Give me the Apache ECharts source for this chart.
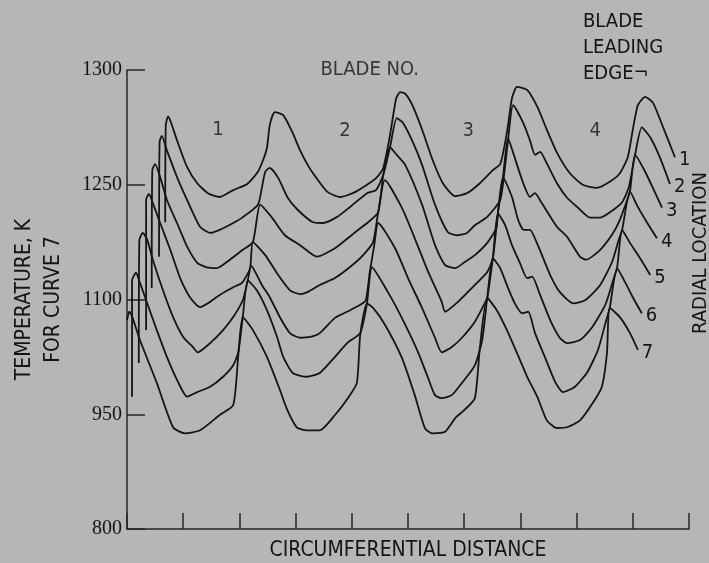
<!DOCTYPE html>
<html>
<head>
<meta charset="utf-8">
<script src="https://cdn.jsdelivr.net/npm/echarts@6/dist/echarts.min.js"></script>
<style>
  html, body { margin: 0; padding: 0; background: #b6b6b4; }
  #chart { width: 709px; height: 563px; }
</style>
</head>
<body>
<div id="chart"></div>
<script>
// temperature traces, one per radial location; x = circumferential distance in tick units,
// y = temperature (only curve 7 is on the true scale, the others are stacked above it)
var curveNames = ['1', '2', '3', '4', '5', '6', '7'];

var curve1 = [[0.68,1201],[0.69,1328],[0.73,1339],[0.78,1332],[0.89,1308],[1.07,1273],[1.25,1252],[1.44,1239],[1.65,1234],[1.89,1243],[2.14,1251],[2.33,1267],[2.42,1282],[2.49,1298],[2.54,1328],[2.63,1345],[2.78,1341],[2.94,1319],[3.08,1295],[3.20,1278],[3.31,1265],[3.56,1241],[3.79,1234],[4.02,1239],[4.27,1250],[4.45,1260],[4.56,1272],[4.68,1315],[4.79,1363],[4.86,1371],[4.95,1369],[5.09,1352],[5.27,1318],[5.44,1282],[5.62,1252],[5.84,1235],[6.05,1239],[6.28,1252],[6.51,1269],[6.64,1277],[6.71,1298],[6.78,1328],[6.85,1363],[6.94,1378],[7.12,1374],[7.30,1352],[7.47,1322],[7.65,1292],[7.88,1265],[8.11,1250],[8.36,1246],[8.59,1254],[8.77,1265],[8.91,1286],[9.00,1322],[9.09,1354],[9.22,1365],[9.36,1357],[9.54,1325],[9.75,1286]];

var curve2 = [[0.57,1156],[0.58,1306],[0.62,1314],[0.71,1295],[0.89,1260],[1.07,1230],[1.30,1195],[1.48,1187],[1.65,1191],[1.89,1200],[2.05,1207],[2.33,1224],[2.40,1246],[2.46,1267],[2.54,1272],[2.69,1259],[2.86,1233],[3.04,1217],[3.31,1201],[3.49,1200],[3.74,1208],[3.97,1221],[4.27,1239],[4.43,1243],[4.56,1263],[4.68,1299],[4.80,1337],[4.91,1331],[5.09,1305],[5.25,1276],[5.48,1224],[5.71,1188],[5.89,1184],[6.05,1187],[6.19,1197],[6.41,1208],[6.64,1230],[6.71,1263],[6.78,1308],[6.87,1354],[7.05,1331],[7.17,1308],[7.26,1289],[7.35,1293],[7.47,1278],[7.65,1252],[7.83,1233],[8.01,1221],[8.24,1207],[8.42,1207],[8.65,1217],[8.81,1227],[8.93,1247],[9.04,1289],[9.16,1325],[9.31,1312],[9.48,1286],[9.66,1251]];

var curve3 = [[0.44,1115],[0.45,1269],[0.50,1277],[0.59,1260],[0.71,1230],[0.89,1200],[1.07,1169],[1.25,1148],[1.42,1142],[1.60,1141],[1.83,1152],[2.06,1165],[2.24,1175],[2.37,1224],[2.58,1207],[2.81,1184],[3.08,1171],[3.38,1156],[3.70,1167],[4.06,1188],[4.29,1201],[4.47,1214],[4.56,1263],[4.68,1299],[4.80,1289],[4.95,1276],[5.25,1224],[5.48,1171],[5.66,1145],[5.84,1141],[6.01,1149],[6.19,1158],[6.41,1174],[6.57,1193],[6.60,1213],[6.69,1260],[6.78,1311],[6.87,1292],[7.05,1252],[7.17,1234],[7.26,1239],[7.38,1226],[7.65,1195],[7.83,1182],[8.06,1156],[8.17,1152],[8.42,1165],[8.65,1187],[8.77,1204],[8.90,1230],[8.95,1241],[9.04,1289],[9.22,1267],[9.40,1239],[9.52,1220]];

var curve4 = [[0.34,1060],[0.34,1230],[0.39,1238],[0.46,1226],[0.59,1200],[0.77,1165],[0.94,1129],[1.12,1103],[1.30,1090],[1.44,1095],[1.65,1106],[1.89,1116],[2.05,1122],[2.19,1141],[2.24,1175],[2.46,1158],[2.69,1132],[2.90,1112],[3.08,1107],[3.22,1110],[3.43,1119],[3.70,1128],[4.06,1148],[4.25,1162],[4.38,1175],[4.47,1214],[4.59,1256],[4.89,1220],[5.12,1180],[5.36,1136],[5.60,1097],[5.66,1084],[5.89,1097],[6.19,1119],[6.41,1136],[6.51,1154],[6.60,1213],[6.69,1260],[6.85,1234],[6.96,1204],[7.06,1191],[7.17,1191],[7.31,1171],[7.53,1132],[7.70,1110],[7.94,1095],[8.15,1099],[8.42,1119],[8.63,1149],[8.75,1178],[8.81,1191],[8.95,1241],[9.09,1221],[9.25,1201],[9.43,1180]];

var curve5 = [[0.21,1017],[0.22,1178],[0.28,1187],[0.36,1178],[0.46,1152],[0.64,1112],[0.82,1077],[1.00,1051],[1.17,1038],[1.26,1031],[1.48,1043],[1.71,1060],[1.89,1077],[2.06,1099],[2.15,1125],[2.21,1144],[2.40,1119],[2.54,1103],[2.72,1077],[2.90,1056],[3.08,1050],[3.26,1051],[3.43,1056],[3.70,1076],[3.97,1086],[4.15,1093],[4.25,1099],[4.32,1136],[4.40,1171],[4.47,1200],[4.77,1167],[5.00,1128],[5.25,1089],[5.48,1050],[5.60,1031],[5.78,1038],[5.96,1050],[6.19,1071],[6.35,1093],[6.41,1102],[6.51,1154],[6.60,1213],[6.73,1197],[6.85,1171],[6.99,1148],[7.12,1128],[7.21,1130],[7.35,1106],[7.53,1073],[7.70,1050],[7.83,1043],[8.06,1047],[8.27,1063],[8.51,1093],[8.65,1125],[8.72,1141],[8.81,1191],[8.95,1174],[9.13,1154],[9.31,1132]];

var curve6 = [[0.09,973],[0.09,1125],[0.16,1135],[0.23,1122],[0.36,1095],[0.53,1060],[0.71,1025],[0.89,995],[1.07,973],[1.25,979],[1.48,986],[1.71,999],[1.89,1014],[1.98,1031],[2.06,1077],[2.15,1125],[2.31,1112],[2.49,1086],[2.67,1051],[2.78,1025],[2.95,1004],[3.20,999],[3.43,1004],[3.70,1025],[3.93,1044],[4.15,1056],[4.27,1095],[4.36,1142],[4.64,1110],[4.89,1076],[5.18,1031],[5.36,997],[5.48,975],[5.60,971],[5.78,975],[5.96,991],[6.19,1014],[6.32,1047],[6.41,1102],[6.51,1154],[6.64,1141],[6.78,1115],[6.90,1095],[7.03,1082],[7.14,1084],[7.26,1056],[7.44,1024],[7.62,992],[7.76,979],[7.97,986],[8.19,1005],[8.38,1034],[8.52,1071],[8.59,1089],[8.72,1141],[8.86,1123],[9.00,1103],[9.16,1082]];

var curve7 = [[0.00,1073],[0.04,1084],[0.09,1078],[0.23,1047],[0.53,991],[0.82,933],[1.03,925],[1.30,929],[1.65,949],[1.89,962],[1.98,1027],[2.06,1077],[2.24,1060],[2.49,1025],[2.72,982],[2.85,956],[3.02,933],[3.20,929],[3.43,929],[3.70,949],[3.93,971],[4.09,991],[4.15,1054],[4.27,1095],[4.38,1089],[4.59,1067],[4.89,1024],[5.12,975],[5.30,932],[5.43,925],[5.66,927],[5.84,945],[6.01,956],[6.19,971],[6.28,1038],[6.41,1102],[6.58,1086],[6.76,1060],[6.94,1030],[7.12,999],[7.30,973],[7.47,942],[7.65,932],[7.83,933],[8.06,942],[8.29,965],[8.45,986],[8.54,1030],[8.59,1089],[8.77,1077],[8.95,1056],[9.09,1034]];

var yTickLabels = ['800', '950', '1100', '1250', '1300'];

// blade numbers written between the leading edges
var bladeLabels = ['1', '2', '3', '4', 'BLADE NO.'];
var bladeLabelX = [1.62, 3.88, 6.07, 8.33, 4.32];
var bladeLabelY = [1322, 1320, 1320, 1320, 1400];

var narrow = '"Liberation Sans Narrow", "DejaVu Sans Condensed", "Roboto", sans-serif';
var ink = '#141414';

var chart = echarts.init(document.getElementById('chart'), null, { renderer: 'canvas' });

var curves = [curve1, curve2, curve3, curve4, curve5, curve6, curve7];
var series = curves.map(function (d, i) {
    return {
        name: curveNames[i],
        type: 'line',
        data: d,
        showSymbol: false,
        smooth: 0.2,
        clip: false,
        lineStyle: { color: ink, width: 1.8 },
        endLabel: {
            show: true,
            formatter: curveNames[i],
            distance: 4,
            offset: [0, 3],
            color: ink,
            fontFamily: narrow,
            fontSize: 20
        }
    };
});

series.push({
    type: 'scatter',
    symbolSize: 0,
    clip: false,
    data: bladeLabels.map(function (t, i) { return { value: [bladeLabelX[i], bladeLabelY[i]], name: t }; }),
    label: {
        show: true,
        position: 'inside',
        formatter: function (p) { return p.name; },
        color: ink,
        fontFamily: narrow,
        fontSize: 20
    }
});

chart.setOption({
    animation: false,
    backgroundColor: '#b6b6b4',
    grid: { left: 127, right: 20, top: 70, bottom: 34, outerBoundsMode: 'none' },
    xAxis: {
        type: 'value',
        min: 0,
        max: 10,
        interval: 1,
        name: 'CIRCUMFERENTIAL DISTANCE',
        nameLocation: 'middle',
        nameGap: 11,
        nameTextStyle: { color: ink, fontFamily: narrow, fontSize: 21 },
        axisLine: { lineStyle: { color: '#262626', width: 1.5 } },
        axisTick: { inside: true, length: 16, lineStyle: { color: '#262626', width: 1.5 } },
        axisLabel: { show: false },
        splitLine: { show: false }
    },
    yAxis: {
        type: 'value',
        min: 800,
        max: 1400,
        interval: 150,
        name: 'TEMPERATURE, K\nFOR CURVE 7',
        nameLocation: 'middle',
        nameRotate: 90,
        nameGap: 59,
        nameTextStyle: { color: ink, fontFamily: narrow, fontSize: 21, lineHeight: 29 },
        axisLine: { show: true, lineStyle: { color: '#262626', width: 1.5 } },
        axisTick: { show: true, inside: true, length: 18, lineStyle: { color: '#262626', width: 1.5 } },
        axisLabel: {
            margin: 5,
            color: ink,
            fontFamily: '"Liberation Serif", serif',
            fontSize: 20,
            formatter: function (v) { return yTickLabels[Math.round((v - 800) / 150)]; }
        },
        splitLine: { show: false }
    },
    graphic: [
        { type: 'text', left: 583, top: 12, style: { text: 'BLADE', fill: ink, font: '20px ' + narrow } },
        { type: 'text', left: 583, top: 38, style: { text: 'LEADING', fill: ink, font: '20px ' + narrow } },
        { type: 'text', left: 583, top: 64, style: { text: 'EDGE\u00ac', fill: ink, font: '20px ' + narrow } },
        { type: 'text', x: 701, y: 253, rotation: Math.PI / 2,
          style: { text: 'RADIAL LOCATION', fill: ink, font: '20px ' + narrow, align: 'center', verticalAlign: 'middle' } }
    ],
    series: series
});
</script>
</body>
</html>
